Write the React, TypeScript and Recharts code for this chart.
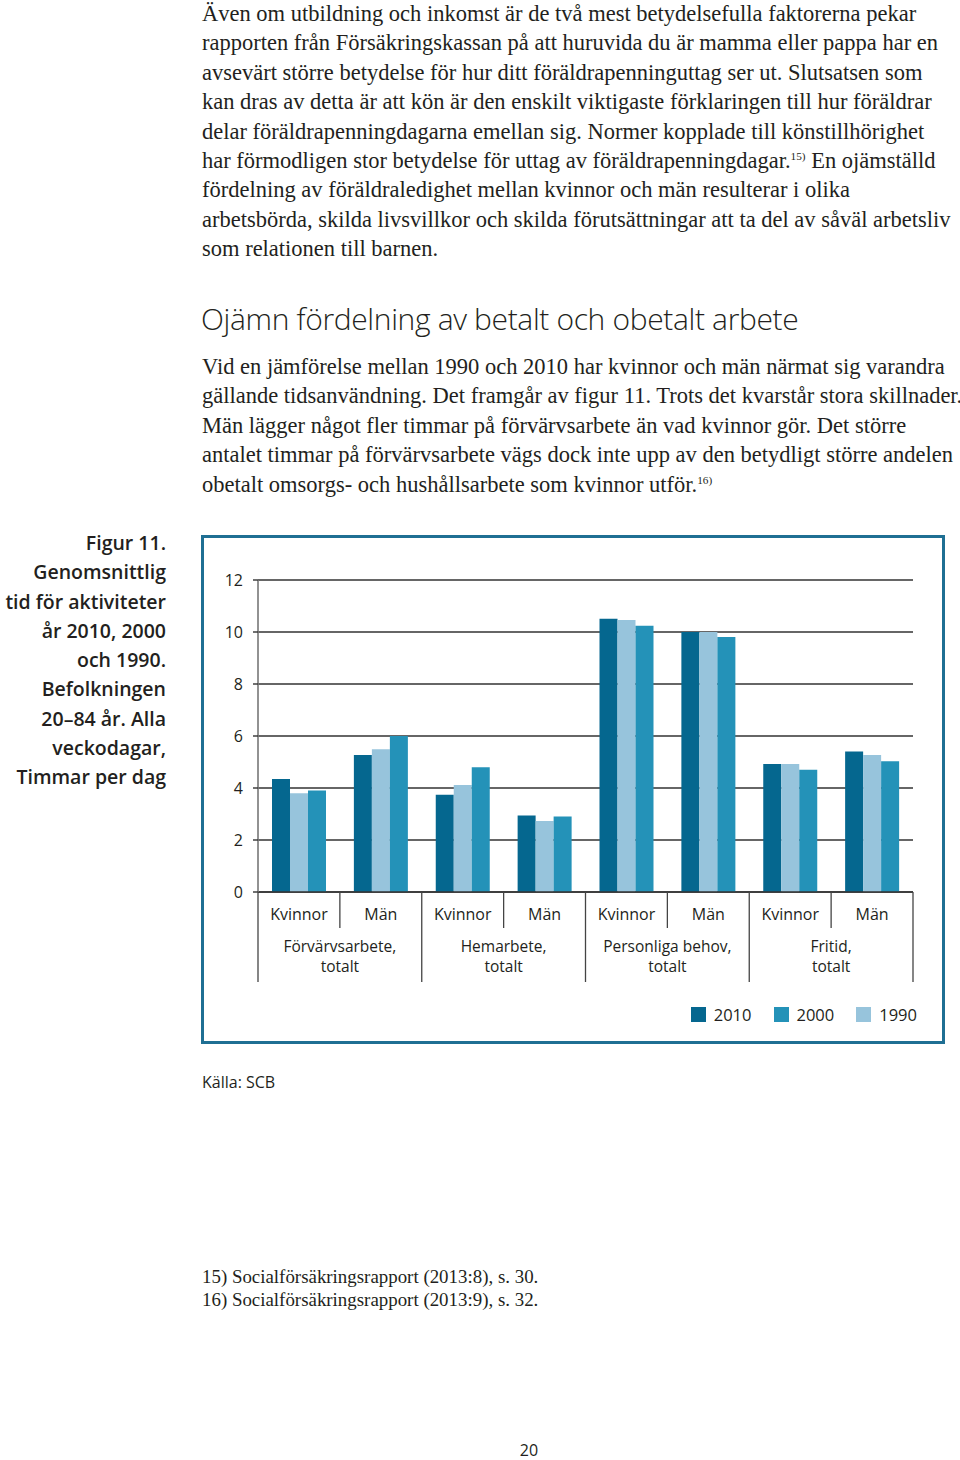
import React from "react";
import { Bar, BarChart, CartesianGrid, Legend, XAxis, YAxis } from "recharts";

const categories = ["Kvinnor", "Män", "Kvinnor", "Män", "Kvinnor", "Män", "Kvinnor", "Män"];
const groupLabels = [
  ["Förvärvsarbete,", "totalt"],
  ["Hemarbete,", "totalt"],
  ["Personliga behov,", "totalt"],
  ["Fritid,", "totalt"],
];
const values2010 = [4.35, 5.27, 3.74, 2.94, 10.51, 10.0, 4.92, 5.4];
const values1990 = [3.8, 5.49, 4.12, 2.73, 10.46, 10.0, 4.92, 5.27];
const values2000 = [3.9, 6.0, 4.8, 2.9, 10.24, 9.81, 4.7, 5.03];
const yTicks = [0, 2, 4, 6, 8, 10, 12];

// bar order in the plot is 2010, 1990, 2000; legend lists 2010, 2000, 1990
const barSeries = [
  { key: "y2010", name: "2010", color: "#05678f" },
  { key: "y1990", name: "1990", color: "#97c4dc" },
  { key: "y2000", name: "2000", color: "#2492b8" },
];
const legendOrder = ["2010", "2000", "1990"];

const intro = [
  "Även om utbildning och inkomst är de två mest betydelsefulla faktorerna pekar",
  "rapporten från Försäkringskassan på att huruvida du är mamma eller pappa har en",
  "avsevärt större betydelse för hur ditt föräldrapenninguttag ser ut. Slutsatsen som",
  "kan dras av detta är att kön är den enskilt viktigaste förklaringen till hur föräldrar",
  "delar föräldrapenningdagarna emellan sig. Normer kopplade till könstillhörighet",
  "har förmodligen stor betydelse för uttag av föräldrapenningdagar.^15)^ En ojämställd",
  "fördelning av föräldraledighet mellan kvinnor och män resulterar i olika",
  "arbetsbörda, skilda livsvillkor och skilda förutsättningar att ta del av såväl arbetsliv",
  "som relationen till barnen.",
];
const heading = "Ojämn fördelning av betalt och obetalt arbete";
const section = [
  "Vid en jämförelse mellan 1990 och 2010 har kvinnor och män närmat sig varandra",
  "gällande tidsanvändning. Det framgår av figur 11. Trots det kvarstår stora skillnader.",
  "Män lägger något fler timmar på förvärvsarbete än vad kvinnor gör. Det större",
  "antalet timmar på förvärvsarbete vägs dock inte upp av den betydligt större andelen",
  "obetalt omsorgs- och hushållsarbete som kvinnor utför.^16)^",
];
const caption = [
  "Figur 11.",
  "Genomsnittlig",
  "tid för aktiviteter",
  "år 2010, 2000",
  "och 1990.",
  "Befolkningen",
  "20–84 år. Alla",
  "veckodagar,",
  "Timmar per dag",
];
const source = "Källa: SCB";
const footnotes = [
  "15) Socialförsäkringsrapport (2013:8), s. 30.",
  "16) Socialförsäkringsrapport (2013:9), s. 32.",
];
const pageNumber = "20";

const data = categories.map((c, i) => ({
  cat: c,
  y2010: values2010[i],
  y1990: values1990[i],
  y2000: values2000[i],
}));

const SERIF = "'Liberation Serif', 'DejaVu Serif', serif";
const SANS = "'Open Sans', 'Noto Sans', sans-serif";
const INK = "#231f20";

const CHART_W = 743;
const CHART_H = 507;
const MARGIN = { top: 44, right: 32, left: 0, bottom: 14 };
const Y_W = 56;
const PLOT_W = CHART_W - MARGIN.left - MARGIN.right - Y_W;
const BAND = PLOT_W / categories.length;

function withSup(line: string) {
  const parts = line.split("^");
  return parts.map((p, i) =>
    i % 2 === 1 ? (
      <sup key={i} style={{ fontSize: "0.5em", verticalAlign: "0.75em", lineHeight: 0 }}>
        {p}
      </sup>
    ) : (
      <span key={i}>{p}</span>
    ),
  );
}

function Paragraph({ lines, top }: { lines: string[]; top: number }) {
  return (
    <div
      style={{
        position: "absolute",
        left: 202,
        top,
        fontFamily: SERIF,
        fontSize: 22.5,
        lineHeight: "29.4px",
        color: INK,
        whiteSpace: "nowrap",
      }}
    >
      {lines.map((l, i) => (
        <div key={i}>{withSup(l)}</div>
      ))}
    </div>
  );
}

function CategoryTick(props: any) {
  const { x, y, index, payload } = props;
  const left = x - BAND / 2;
  const isGroupStart = index % 2 === 0;
  const last = index === categories.length - 1;
  const group = groupLabels[Math.floor(index / 2)];
  return (
    <g>
      <line x1={left} x2={left} y1={y} y2={y + (isGroupStart ? 90 : 36)} stroke="#444" strokeWidth={1.3} />
      {last && (
        <line x1={x + BAND / 2} x2={x + BAND / 2} y1={y} y2={y + 90} stroke="#444" strokeWidth={1.3} />
      )}
      <text x={x} y={y + 28} textAnchor="middle" fontSize={16} fill={INK} fontFamily={SANS}>
        {payload.value}
      </text>
      {isGroupStart && (
        <text x={x + BAND / 2} y={y + 60} textAnchor="middle" fontSize={15.5} fill={INK} fontFamily={SANS}>
          {group[0]}
        </text>
      )}
      {isGroupStart && (
        <text x={x + BAND / 2} y={y + 80} textAnchor="middle" fontSize={15.5} fill={INK} fontFamily={SANS}>
          {group[1]}
        </text>
      )}
    </g>
  );
}

function LegendContent() {
  return (
    <div
      style={{
        height: 30,
        display: "flex",
        justifyContent: "flex-end",
        alignItems: "center",
        marginRight: -4,
        fontFamily: SANS,
        fontSize: 16.5,
        color: INK,
      }}
    >
      {legendOrder.map((name) => {
        const s = barSeries.find((b) => b.name === name)!;
        return (
          <div key={name} style={{ display: "flex", alignItems: "center", marginLeft: 22 }}>
            <span style={{ width: 15, height: 15, background: s.color, marginRight: 8 }} />
            <span>{name}</span>
          </div>
        );
      })}
    </div>
  );
}

export default function App() {
  return (
    <div style={{ position: "absolute", left: 0, top: 0, width: 960, height: 1460, background: "#fff" }}>
      <Paragraph lines={intro} top={-1} />
      <div
        style={{
          position: "absolute",
          left: 201,
          top: 298,
          fontFamily: SANS,
          fontWeight: 300,
          fontSize: 30,
          letterSpacing: -0.35,
          color: INK,
          whiteSpace: "nowrap",
        }}
      >
        {heading}
      </div>
      <Paragraph lines={section} top={352} />
      <div
        style={{
          position: "absolute",
          right: 960 - 166,
          top: 528,
          textAlign: "right",
          fontFamily: SANS,
          fontWeight: 600,
          fontSize: 19.5,
          lineHeight: "29.3px",
          color: INK,
          whiteSpace: "nowrap",
        }}
      >
        {caption.map((c, i) => (
          <div key={i}>{c}</div>
        ))}
      </div>
      <div
        style={{
          position: "absolute",
          left: 201,
          top: 535,
          width: 744,
          height: 509,
          boxSizing: "border-box",
          border: "3px solid #1f6f93",
        }}
      />
      <div style={{ position: "absolute", left: 202, top: 536 }}>
        <BarChart width={CHART_W} height={CHART_H} data={data} margin={MARGIN} barGap={0} barSize={18}>
          <CartesianGrid vertical={false} stroke="#333" strokeWidth={1.4} />
          <XAxis
            dataKey="cat"
            height={107}
            interval={0}
            tickSize={0}
            tickMargin={0}
            tickLine={false}
            axisLine={{ stroke: "#333", strokeWidth: 1.6 }}
            tick={<CategoryTick />}
          />
          <YAxis
            width={Y_W}
            domain={[0, 12]}
            ticks={yTicks}
            interval={0}
            tickSize={5}
            tickMargin={10}
            tickLine={{ stroke: "#333", strokeWidth: 1.4 }}
            axisLine={{ stroke: "#777", strokeWidth: 1.6 }}
            tick={{ fill: INK, fontSize: 16, fontFamily: SANS }}
          />
          <Legend verticalAlign="bottom" content={<LegendContent />} />
          {barSeries.map((s) => (
            <Bar key={s.key} dataKey={s.key} name={s.name} fill={s.color} isAnimationActive={false} />
          ))}
        </BarChart>
      </div>
      <div style={{ position: "absolute", left: 202, top: 1071, fontFamily: SANS, fontSize: 16, color: INK }}>
        {source}
      </div>
      <div
        style={{
          position: "absolute",
          left: 202,
          top: 1265,
          fontFamily: SERIF,
          fontSize: 18.9,
          lineHeight: "23px",
          color: INK,
          whiteSpace: "nowrap",
        }}
      >
        {footnotes.map((f, i) => (
          <div key={i}>{f}</div>
        ))}
      </div>
      <div
        style={{
          position: "absolute",
          left: 509,
          width: 40,
          top: 1439,
          textAlign: "center",
          fontFamily: SANS,
          fontSize: 16,
          color: INK,
        }}
      >
        {pageNumber}
      </div>
    </div>
  );
}
